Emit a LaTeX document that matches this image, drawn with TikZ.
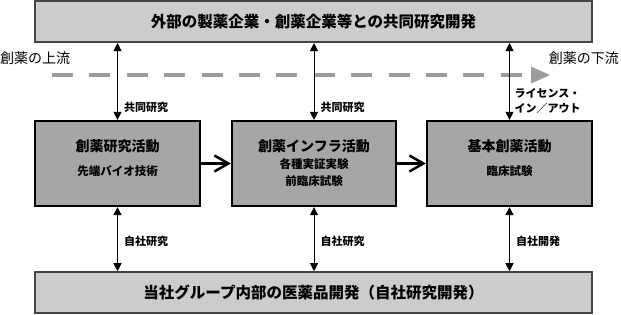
\documentclass[tikz,border=0pt]{standalone}
\usepackage{fontspec}
\setmainfont{Noto Sans CJK JP}
\usetikzlibrary{arrows.meta}
\definecolor{lightbox}{HTML}{CCCCCC}
\definecolor{midbox}{HTML}{A6A6A6}
\definecolor{boxline}{HTML}{444444}
\definecolor{flowgray}{HTML}{9C9C9C}
\tikzset{
  widebox/.style={draw=boxline, line width=1.6pt, fill=lightbox, minimum width=557pt, inner sep=0pt},
  actbox/.style={draw=black, line width=2.2pt, fill=midbox, minimum height=85pt, inner sep=0pt},
  bigtext/.style={font=\bfseries\fontsize{15.5}{18}\selectfont},
  titletext/.style={font=\bfseries\fontsize{14}{17}\selectfont, inner sep=0pt},
  subtext/.style={font=\bfseries\fontsize{11.5}{16.5}\selectfont, inner sep=0pt, align=center},
  lab/.style={font=\bfseries\fontsize{11}{15}\selectfont, inner sep=0pt, anchor=west, align=left},
  flowtext/.style={font=\fontsize{14}{17}\selectfont, inner sep=0pt},
  linkarrow/.style={line width=0.9pt, black, {Triangle[length=8pt,width=8pt]}-{Triangle[length=8pt,width=8pt]}},
  steparrow/.style={line width=2.5pt, black, -{Straight Barb[length=14pt,width=16pt,line width=2.5pt]}}
}
\begin{document}
\begin{tikzpicture}[x=1pt,y=-1pt]
\useasboundingbox (0,0) rectangle (621,314);
% wide boxes
\node[widebox, minimum height=41.5pt, bigtext] (top) at (313.5,21.5) {外部の製薬企業・創薬企業等との共同研究開発};
\node[widebox, minimum height=41pt, bigtext] (bot) at (313.5,292.5) {当社グループ内部の医薬品開発（自社研究開発）};
% activity boxes
\node[actbox, minimum width=165pt] (b1) at (117.5,163.5) {};
\node[actbox, minimum width=164pt] (b2) at (314,163.5) {};
\node[actbox, minimum width=165pt] (b3) at (509.5,163.5) {};
\node[titletext] (t1) at ([yshift=-26.5pt]b1.north) {創薬研究活動};
\node[subtext] (s1) at ([yshift=-51pt]b1.north) {先端バイオ技術};
\node[titletext] (t2) at ([yshift=-26.5pt]b2.north) {創薬インフラ活動};
\node[subtext] (s2) at ([yshift=-52.5pt]b2.north) {各種実証実験\\前臨床試験};
\node[titletext] (t3) at ([yshift=-26.5pt]b3.north) {基本創薬活動};
\node[subtext] (s3) at ([yshift=-51pt]b3.north) {臨床試験};
% flow of drug discovery
\node[flowtext, anchor=west] (up) at (0,58) {創薬の上流};
\node[flowtext, anchor=east] (down) at (619,58) {創薬の下流};
\coordinate (ds) at (52,75);
\coordinate (de) at (531,75);
\draw[flowgray, line width=4.5pt, dash pattern=on 21pt off 16.4pt] (ds) -- (de);
\fill[flowgray] (531,66.5) -- (550,75) -- (531,83.5) -- cycle;
% vertical links
\draw[linkarrow] (b1.north) -- (b1.north |- top.south);
\draw[linkarrow] (b2.north) -- (b2.north |- top.south);
\draw[linkarrow] (b3.north) -- (b3.north |- top.south);
\draw[linkarrow] (b1.south) -- (b1.south |- bot.north);
\draw[linkarrow] (b2.south) -- (b2.south |- bot.north);
\draw[linkarrow] (b3.south) -- (b3.south |- bot.north);
% labels
\node[lab] (l1) at (124,107.5) {共同研究};
\node[lab] (l2) at (320.5,107.5) {共同研究};
\node[lab] (l3) at (514.5,100.5) {ライセンス・\\イン／アウト};
\node[lab] (l4) at (124,241) {自社研究};
\node[lab] (l5) at (320.5,241) {自社研究};
\node[lab] (l6) at (516,241) {自社開発};
% step arrows
\draw[steparrow] (b1.east) -- (b2.west);
\draw[steparrow] (b2.east) -- (b3.west);
\end{tikzpicture}
\end{document}
